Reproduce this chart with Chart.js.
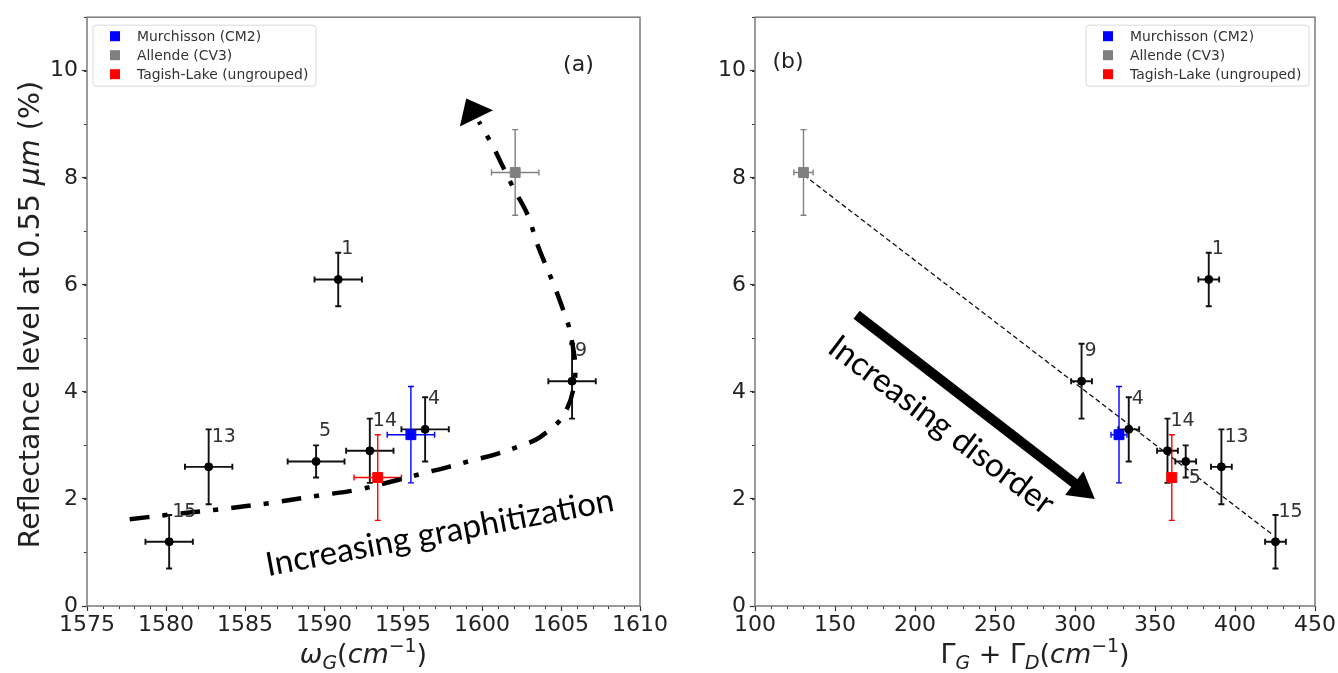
<!DOCTYPE html>
<html>
<head>
<meta charset="utf-8">
<script src="https://cdn.jsdelivr.net/npm/chart.js@4"></script>
<style>
  html, body { margin: 0; padding: 0; background: #fff; }
  #wrap { position: relative; width: 1338px; height: 673px; }
  #wrap canvas { position: absolute; top: 0; }
</style>
</head>
<body>
<div id="wrap">
  <canvas id="chartOmega" width="669" height="673" style="left:0"></canvas>
  <canvas id="chartWidth" width="669" height="673" style="left:669px"></canvas>
</div>
<script>
// ==================== DATA ====================
// numbered samples
const sampleIds = ['1', '4', '5', '9', '13', '14', '15'];
const sampleReflect = [6.1, 3.3, 2.7, 4.2, 2.6, 2.9, 1.2];
const sampleReflectErr = [0.5, 0.6, 0.3, 0.7, 0.7, 0.6, 0.5];
const sampleOmega = [1590.9, 1596.4, 1589.5, 1605.7, 1582.7, 1592.9, 1580.2];
const sampleOmegaErr = [1.5, 1.5, 1.8, 1.5, 1.5, 1.5, 1.5];
const sampleWidth = [383.6, 333.6, 369.2, 304.1, 391.5, 357.8, 425.3];
const sampleWidthErr = [6.5, 6.5, 6.5, 6.5, 6.5, 6.5, 6.5];

// meteorites
const meteorites = ['Murchisson (CM2)', 'Allende (CV3)', 'Tagish-Lake (ungrouped)'];
const metReflect = [3.2, 8.1, 2.4];
const metReflectErr = [0.9, 0.8, 0.8];
const metOmega = [1595.5, 1602.1, 1593.4];
const metOmegaErr = [1.5, 1.5, 1.5];
const metWidth = [327.5, 130.3, 360.5];
const metWidthErr = [5, 6, 2];

// hand drawn graphitization path (a)
const pathOmega = [1577.7, 1580.0, 1583.2, 1586.5, 1589.8, 1592.1, 1594.6, 1596.3, 1597.9, 1599.5, 1600.7, 1602.6,
  1603.7, 1605.2, 1605.9, 1605.6, 1605.2, 1604.6, 1603.5, 1602.9, 1602.0, 1601.35, 1600.65, 1599.8];
const pathReflect = [1.62, 1.70, 1.80, 1.92, 2.07, 2.17, 2.35, 2.48, 2.60, 2.73, 2.82, 3.01,
  3.16, 3.58, 4.30, 5.09, 5.48, 5.96, 6.76, 7.30, 7.80, 8.19, 8.61, 9.05];
const pathHeadOmega = [1599.0, 1600.7, 1598.6];
const pathHeadReflect = [9.48, 9.26, 8.96];

// trend line and arrow (b)
const fitWidth = [130.5, 424];
const fitReflect = [8.05, 1.32];
const disorderWidth = [163.5, 312.4];
const disorderReflect = [5.44, 2.0];

// ticks
const omegaTicks = [1575, 1580, 1585, 1590, 1595, 1600, 1605, 1610];
const widthTicks = [100, 150, 200, 250, 300, 350, 400, 450];
const reflectTicks = [0, 2, 4, 6, 8, 10];

// ==================== STYLE ====================
const FONT = '"DejaVu Sans", sans-serif';
const NOTE_FONT = 'Lato, "Open Sans", sans-serif';
const INK = '#222';
const metColors = ['#0000ff', '#808080', '#ff0000'];

function pointsOf(xs, ys) {
  return xs.map((x, i) => ({ x: x, y: ys[i] }));
}

function buildDatasets(xs, xErr, metX, metXErr) {
  const sets = [{
    label: 'samples',
    data: pointsOf(xs, sampleReflect),
    errX: xErr, errY: sampleReflectErr, errColor: '#111', errWidth: 1.9,
    backgroundColor: '#000', borderColor: '#000',
    pointRadius: 4, pointHoverRadius: 4
  }];
  meteorites.forEach((name, i) => {
    sets.push({
      label: name,
      data: [{ x: metX[i], y: metReflect[i] }],
      errX: [metXErr[i]], errY: [metReflectErr[i]], errColor: metColors[i], errWidth: 1.4,
      backgroundColor: metColors[i], borderColor: metColors[i],
      pointStyle: 'rect', pointRadius: 7, pointHoverRadius: 7
    });
  });
  return sets;
}

// ==================== PLUGINS ====================
const errorBars = {
  id: 'errorBars',
  beforeDatasetsDraw(chart) {
    const ctx = chart.ctx, xs = chart.scales.x, ys = chart.scales.y;
    const cap = 3;
    chart.data.datasets.forEach(ds => {
      if (!ds.errY) return;
      ctx.save();
      ctx.strokeStyle = ds.errColor;
      ctx.lineWidth = ds.errWidth;
      ds.data.forEach((p, i) => {
        const px = xs.getPixelForValue(p.x), py = ys.getPixelForValue(p.y);
        const x0 = xs.getPixelForValue(p.x - ds.errX[i]), x1 = xs.getPixelForValue(p.x + ds.errX[i]);
        const y0 = ys.getPixelForValue(p.y - ds.errY[i]), y1 = ys.getPixelForValue(p.y + ds.errY[i]);
        ctx.beginPath();
        ctx.moveTo(x0, py); ctx.lineTo(x1, py);
        ctx.moveTo(px, y0); ctx.lineTo(px, y1);
        ctx.moveTo(x0, py - cap); ctx.lineTo(x0, py + cap);
        ctx.moveTo(x1, py - cap); ctx.lineTo(x1, py + cap);
        ctx.moveTo(px - cap, y0); ctx.lineTo(px + cap, y0);
        ctx.moveTo(px - cap, y1); ctx.lineTo(px + cap, y1);
        ctx.stroke();
      });
      ctx.restore();
    });
  }
};

// frame + minor ticks (matplotlib look)
const frame = {
  id: 'frame',
  afterDraw(chart, args, o) {
    const { ctx, chartArea: a, scales } = chart;
    ctx.save();
    ctx.strokeStyle = '#333';
    ctx.lineWidth = 1;
    for (let v = scales.x.min; v <= scales.x.max + 1e-9; v += o.xMinor) {
      const px = Math.round(scales.x.getPixelForValue(v)) + 0.5;
      ctx.beginPath(); ctx.moveTo(px, a.bottom); ctx.lineTo(px, a.bottom + 3); ctx.stroke();
    }
    for (let v = scales.y.min; v <= scales.y.max + 1e-9; v += o.yMinor) {
      const py = Math.round(scales.y.getPixelForValue(v)) + 0.5;
      ctx.beginPath(); ctx.moveTo(a.left, py); ctx.lineTo(a.left - 3, py); ctx.stroke();
    }
    ctx.strokeStyle = '#7a7a7a';
    ctx.lineWidth = 1.5;
    ctx.strokeRect(a.left, a.top, a.right - a.left, a.bottom - a.top);
    ctx.restore();
  }
};

// rich text: [text, kind] kind = 'r' roman, 'i' italic, 'sub' italic subscript, 'sup' superscript
function drawRich(ctx, parts, cx, baseY, size) {
  let total = 0;
  const items = parts.map(([t, k]) => {
    const small = k === 'sub' || k === 'sup';
    const fs = small ? size * 0.7 : size;
    const font = (k === 'i' || k === 'sub' ? 'italic ' : '') + fs + 'px ' + FONT;
    ctx.font = font;
    const w = ctx.measureText(t).width;
    total += w;
    return { t: t, font: font, w: w, dy: k === 'sub' ? size * 0.22 : (k === 'sup' ? -size * 0.4 : 0) };
  });
  let x = cx - total / 2;
  ctx.textAlign = 'left';
  ctx.textBaseline = 'alphabetic';
  items.forEach(it => {
    ctx.font = it.font;
    ctx.fillText(it.t, x, baseY + it.dy);
    x += it.w;
  });
}

function drawLegend(ctx, left, top) {
  const w = 223, h = 61;
  ctx.save();
  ctx.fillStyle = 'rgba(255,255,255,0.85)';
  ctx.strokeStyle = '#d9d9d9';
  ctx.lineWidth = 1;
  ctx.beginPath();
  if (ctx.roundRect) ctx.roundRect(left, top, w, h, 3); else ctx.rect(left, top, w, h);
  ctx.fill();
  ctx.stroke();
  ctx.font = '13.9px ' + FONT;
  ctx.textBaseline = 'middle';
  ctx.textAlign = 'left';
  meteorites.forEach((name, i) => {
    const cy = top + 11 + i * 19;
    ctx.fillStyle = metColors[i];
    ctx.fillRect(left + 17, cy - 5, 10, 10);
    ctx.fillStyle = '#333';
    ctx.fillText(name, left + 44, cy + 1);
  });
  ctx.restore();
}

const decor = {
  id: 'decor',
  afterDraw(chart, args, o) {
    const { ctx, chartArea: a, scales: { x, y } } = chart;
    ctx.save();

    // arrows
    if (o.headX) {
      ctx.fillStyle = '#000';
      ctx.beginPath();
      o.headX.forEach((v, i) => {
        const px = x.getPixelForValue(v), py = y.getPixelForValue(o.headY[i]);
        if (i === 0) ctx.moveTo(px, py); else ctx.lineTo(px, py);
      });
      ctx.closePath();
      ctx.fill();
    }
    if (o.blockX) {
      const x0 = x.getPixelForValue(o.blockX[0]), y0 = y.getPixelForValue(o.blockY[0]);
      const x1 = x.getPixelForValue(o.blockX[1]), y1 = y.getPixelForValue(o.blockY[1]);
      const ang = Math.atan2(y1 - y0, x1 - x0);
      const headLen = 26, headHalf = 15;
      const bx = x1 - headLen * Math.cos(ang), by = y1 - headLen * Math.sin(ang);
      ctx.strokeStyle = '#000';
      ctx.lineWidth = 10;
      ctx.beginPath();
      ctx.moveTo(x0, y0);
      ctx.lineTo(bx + Math.cos(ang), by + Math.sin(ang));
      ctx.stroke();
      ctx.fillStyle = '#000';
      ctx.beginPath();
      ctx.moveTo(x1, y1);
      ctx.lineTo(bx - headHalf * Math.sin(ang), by + headHalf * Math.cos(ang));
      ctx.lineTo(bx + headHalf * Math.sin(ang), by - headHalf * Math.cos(ang));
      ctx.closePath();
      ctx.fill();
    }

    // sample numbers
    const meta = chart.getDatasetMeta(0);
    ctx.font = '19px ' + FONT;
    ctx.fillStyle = '#333';
    ctx.textAlign = 'left';
    ctx.textBaseline = 'alphabetic';
    meta.data.forEach((pt, i) => {
      const off = (o.labelShift && o.labelShift[sampleIds[i]]) || [3, -25];
      ctx.fillText(sampleIds[i], pt.x + off[0], pt.y + off[1]);
    });

    // rotated notes
    ctx.fillStyle = '#000';
    ctx.font = o.note.size + 'px ' + NOTE_FONT;
    ctx.textAlign = 'center';
    ctx.save();
    ctx.translate(x.getPixelForValue(o.note.x), y.getPixelForValue(o.note.y));
    ctx.rotate(o.note.angle * Math.PI / 180);
    ctx.fillText(o.note.text, 0, 0);
    ctx.restore();

    // panel label
    ctx.fillStyle = INK;
    ctx.font = '22px ' + FONT;
    ctx.textAlign = 'center';
    ctx.textBaseline = 'middle';
    ctx.fillText(o.panel.text, x.getPixelForValue(o.panel.x), y.getPixelForValue(o.panel.y));

    // legend
    drawLegend(ctx, o.legendRight ? a.right - 6 - 223 : a.left + 6, a.top + 8);

    // axis titles
    ctx.fillStyle = INK;
    drawRich(ctx, o.xTitle, (a.left + a.right) / 2, 663, 27);
    if (o.yTitle) {
      ctx.save();
      ctx.translate(39, (a.top + a.bottom) / 2 + 3);
      ctx.rotate(-Math.PI / 2);
      drawRich(ctx, o.yTitle, 0, 0, 28.5);
      ctx.restore();
    }
    ctx.restore();
  }
};

// ==================== OPTIONS ====================
function baseOptions(o) {
  return {
    responsive: false,
    animation: false,
    events: [],
    layout: { padding: { left: 0, right: o.padRight, top: 13, bottom: 0 } },
    plugins: {
      legend: { display: false },
      tooltip: { enabled: false },
      frame: { xMinor: o.xMinor, yMinor: 1 },
      decor: o.decor
    },
    scales: {
      x: {
        type: 'linear', min: o.xMin, max: o.xMax,
        afterBuildTicks: s => { s.ticks = o.xTicks.map(v => ({ value: v })); },
        afterFit: s => { s.height = 67; },
        ticks: { font: { family: FONT, size: 22 }, color: INK, padding: 1, maxRotation: 0, autoSkip: false,
          callback: v => String(v) },
        grid: { drawOnChartArea: false, drawTicks: true, tickLength: 5, tickColor: '#333', tickWidth: 1.2 },
        border: { display: false }
      },
      y: {
        type: 'linear', min: 0, max: 11,
        afterBuildTicks: s => { s.ticks = reflectTicks.map(v => ({ value: v })); },
        afterFit: s => { s.width = o.yWidth; },
        ticks: { font: { family: FONT, size: 22 }, color: INK, padding: 4, autoSkip: false,
          callback: v => String(v) },
        grid: { drawOnChartArea: false, drawTicks: true, tickLength: 5, tickColor: '#333', tickWidth: 1.2 },
        border: { display: false }
      }
    }
  };
}

// ==================== (a) REFLECTANCE vs OMEGA_G ====================
new Chart(document.getElementById('chartOmega'), {
  type: 'scatter',
  data: {
    datasets: buildDatasets(sampleOmega, sampleOmegaErr, metOmega, metOmegaErr).concat([{
      type: 'line',
      label: 'graphitization path',
      data: pointsOf(pathOmega, pathReflect),
      borderColor: '#000', borderWidth: 4.5, borderDash: [20, 13, 5, 13],
      pointRadius: 0, tension: 0.35, fill: false
    }])
  },
  options: baseOptions({
    xMin: 1575, xMax: 1610, xTicks: omegaTicks, xMinor: 1, padRight: 27, yWidth: 87,
    decor: {
      headX: pathHeadOmega, headY: pathHeadReflect,
      note: { text: 'Increasing graphitization', x: 1597.45, y: 1.17, angle: -10.7, size: 33 },
      panel: { text: '(a)', x: 1606.1, y: 10.1 },
      legendRight: false,
      xTitle: [['ω', 'i'], ['G', 'sub'], ['(', 'r'], ['cm', 'i'], ['−1', 'sup'], [')', 'r']],
      yTitle: [['Reflectance level at 0.55 ', 'r'], ['μm', 'i'], [' (%)', 'r']]
    }
  }),
  plugins: [errorBars, frame, decor]
});

// ==================== (b) REFLECTANCE vs GAMMA_G + GAMMA_D ====================
new Chart(document.getElementById('chartWidth'), {
  type: 'scatter',
  data: {
    datasets: buildDatasets(sampleWidth, sampleWidthErr, metWidth, metWidthErr).concat([{
      type: 'line',
      label: 'trend',
      data: pointsOf(fitWidth, fitReflect),
      borderColor: '#111', borderWidth: 1.3, borderDash: [5, 3],
      pointRadius: 0, tension: 0, fill: false
    }])
  },
  options: baseOptions({
    xMin: 100, xMax: 450, xTicks: widthTicks, xMinor: 10, padRight: 23, yWidth: 86,
    decor: {
      blockX: disorderWidth, blockY: disorderReflect,
      note: { text: 'Increasing disorder', x: 212.5, y: 3.22, angle: 37, size: 33 },
      panel: { text: '(b)', x: 120.6, y: 10.15 },
      legendRight: true,
      labelShift: { '5': [3, 22] },
      xTitle: [['Γ', 'r'], ['G', 'sub'], [' + ', 'r'], ['Γ', 'r'], ['D', 'sub'], ['(', 'r'], ['cm', 'i'], ['−1', 'sup'], [')', 'r']]
    }
  }),
  plugins: [errorBars, frame, decor]
});
</script>
</body>
</html>
